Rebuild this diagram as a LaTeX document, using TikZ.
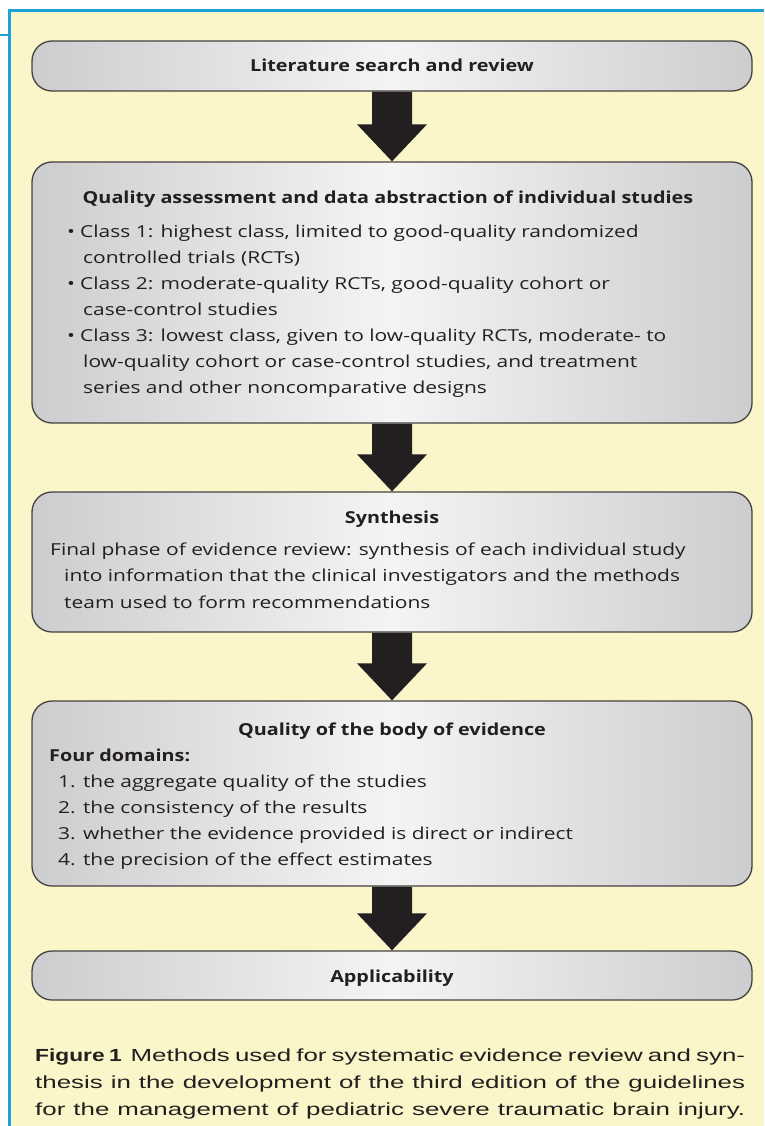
\documentclass[tikz,border=0pt]{standalone}
\usepackage{fontspec}
\newfontfamily\bodyfont[FakeStretch=1.27]{Open Sans}
\newfontfamily\headfont[FakeStretch=1.2]{Open Sans}
\newfontfamily\capfont[FakeStretch=1.48]{Liberation Sans}
\newfontfamily\capbold[FakeStretch=1.3]{Liberation Sans Bold}
\usetikzlibrary{calc}
\pgfdeclarelayer{back}
\pgfdeclarelayer{mid}
\pgfsetlayers{back,mid,main}
\definecolor{frameblue}{HTML}{1EA0D8}
\definecolor{paper}{HTML}{FAF6C9}
\definecolor{boxedge}{HTML}{CDCDD0}
\definecolor{boxmid}{HTML}{F4F4F4}
\definecolor{ink}{HTML}{231F20}
\begin{document}
\begin{tikzpicture}[x=1pt,y=-1pt,
  box/.style={draw=ink!85, line width=1.3pt, rounded corners=20pt, left color=boxedge, right color=boxedge, middle color=boxmid, minimum width=720pt, inner sep=0pt},
  ttl/.style={font=\headfont\bfseries\fontsize{16.5}{16.5}\selectfont, text=ink, inner sep=0pt, anchor=base},
  lbl/.style={font=\headfont\bfseries\fontsize{16.5}{16.5}\selectfont, text=ink, inner sep=0pt, anchor=base west},
  ln/.style={font=\bodyfont\fontsize{16.5}{16.5}\selectfont, text=ink, inner sep=0pt, anchor=base west},
  captxt/.style={font=\capfont\fontsize{17.5}{17.5}\selectfont, text=ink, inner sep=0pt, anchor=base west},
  arr/.style={fill=ink, draw=none},
]
\useasboundingbox (0,0) rectangle (764,1126);
\begin{pgfonlayer}{back}
\fill[white] (0,0) rectangle (764,1126);
\fill[paper] (9.5,10.5) rectangle (764,1126);
\draw[frameblue, line width=2.8pt] (9.5,1126) -- (9.5,10.5) -- (764,10.5);
\draw[frameblue, line width=1.8pt] (0,35.2) -- (9.5,35.2);
\end{pgfonlayer}

% boxes
\node[box, minimum height=50pt]  (b1) at (392,66) {};
\node[box, minimum height=261pt] (b2) at (392,292.5) {};
\node[box, minimum height=140pt] (b3) at (392,562) {};
\node[box, minimum height=185pt] (b4) at (392,793.5) {};
\node[box, minimum height=49pt]  (b5) at (392,975.5) {};

% block arrows
\begin{pgfonlayer}{mid}
\foreach \a/\b in {b1/b2, b2/b3, b3/b4, b4/b5}{
  \path[arr] ($(\a.south)+(-20,0)$) -- ($(\a.south)+(20,0)$) -- ($(\b.north)+(20,-37)$)
    -- ($(\b.north)+(35,-37)$) -- (\b.north) -- ($(\b.north)+(-35,-37)$)
    -- ($(\b.north)+(-20,-37)$) -- cycle;
}
\end{pgfonlayer}

% box 1
\node[ttl] (t1) at (392,72) {Literature search and review};

% box 2
\node[ttl] (t2) at (388,204) {Quality assessment and data abstraction of individual studies};
\node[ln] (p1) at (67,237.3) {\textbullet};
\node[ln] (l1) at (80,237.3) {Class 1: highest class, limited to good-quality randomized};
\node[ln] (l2) at (83,263.3) {controlled trials (RCTs)};
\node[ln] (p2) at (67,289.3) {\textbullet};
\node[ln] (l3) at (80,289.3) {Class 2: moderate-quality RCTs, good-quality cohort or};
\node[ln] (l4) at (83,315.3) {case-control studies};
\node[ln] (p3) at (67,341.3) {\textbullet};
\node[ln] (l5) at (80,341.3) {Class 3: lowest class, given to low-quality RCTs, moderate- to};
\node[ln] (l6) at (83,367.3) {low-quality cohort or case-control studies, and treatment};
\node[ln] (l7) at (83,393.3) {series and other noncomparative designs};

% box 3
\node[ttl] (t3) at (392,523) {Synthesis};
\node[ln] (s1) at (50,555) {Final phase of evidence review: synthesis of each individual study};
\node[ln] (s2) at (64,581.5) {into information that the clinical investigators and the methods};
\node[ln] (s3) at (64,608) {team used to form recommendations};

% box 4
\node[ttl] (t4) at (392,735) {Quality of the body of evidence};
\node[lbl] (f0) at (49,761) {Four domains:};
\node[ln] (f1) at (58,787) {1. the aggregate quality of the studies};
\node[ln] (f2) at (58,813) {2. the consistency of the results};
\node[ln] (f3) at (58,839) {3. whether the evidence provided is direct or indirect};
\node[ln] (f4) at (58,865) {4. the precision of the effect estimates};

% box 5
\node[ttl] (t5) at (392,982) {Applicability};

% caption
\node[captxt] (c1) at (35,1061) {\makebox[710pt][s]{{\capbold Figure 1}\enspace Methods used for systematic evidence review and syn-}};
\node[captxt] (c2) at (35,1088) {\makebox[710pt][s]{thesis in the development of the third edition of the guidelines}};
\node[captxt] (c3) at (35,1115) {\makebox[710pt][s]{for the management of pediatric severe traumatic brain injury.}};
\end{tikzpicture}
\end{document}
